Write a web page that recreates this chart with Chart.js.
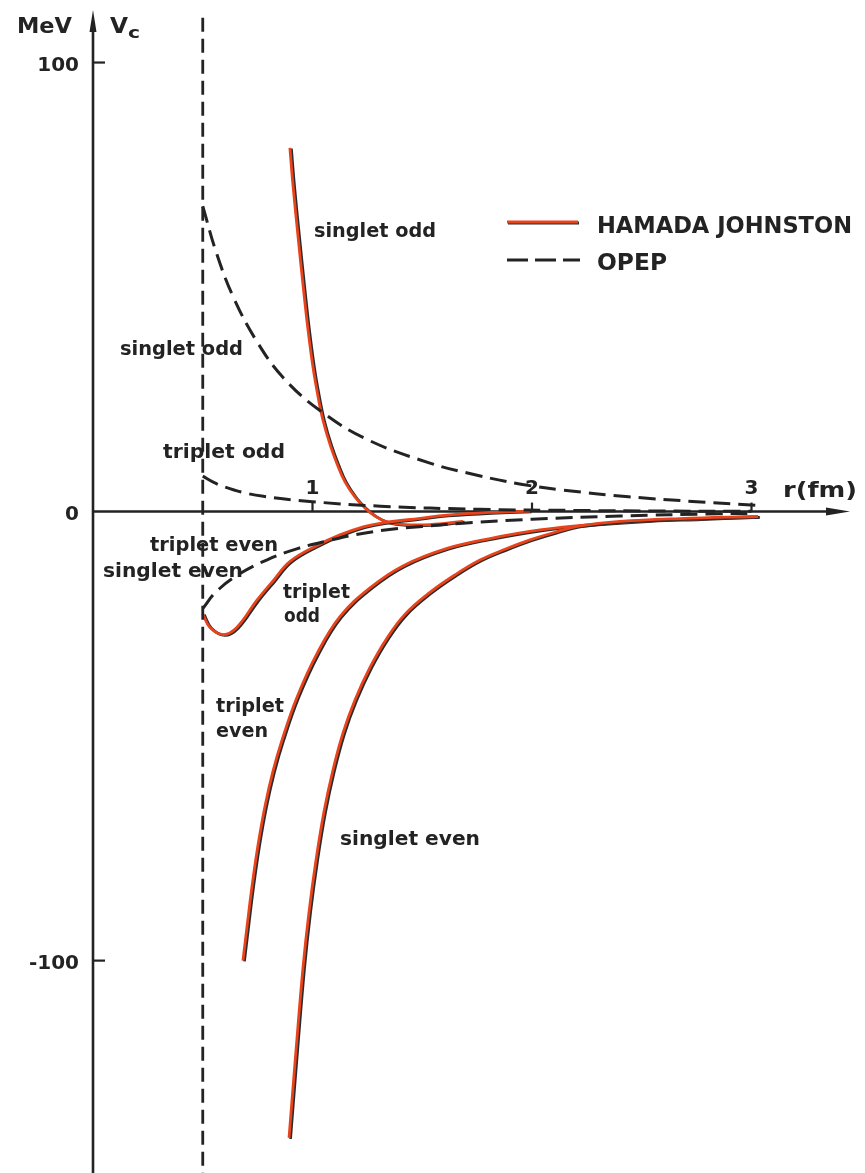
<!DOCTYPE html>
<html>
<head>
<meta charset="utf-8">
<title>Central potential: Hamada-Johnston vs OPEP</title>
<script src="https://cdn.jsdelivr.net/npm/chart.js@4.4.1/dist/chart.umd.min.js"></script>
<style>
  html, body { margin: 0; padding: 0; background: #fff; }
  #wrap { width: 865px; height: 1173px; }
</style>
</head>
<body>
<div id="wrap"><canvas id="potChart" width="865" height="1173"></canvas></div>
<script>
// r in fm, V in MeV

const hardCore = 0.5;

// Hamada-Johnston (solid, red)
const hjSingletOddR = [0.897, 0.911, 0.934, 0.957, 0.980, 1.003, 1.026, 1.048, 1.080, 1.112, 1.148, 1.194, 1.239, 1.285, 1.339, 1.421, 1.535, 1.686];
const hjSingletOddV = [81.0, 72.7, 61.3, 50.4, 40.3, 31.9, 25.4, 20.3, 14.9, 10.6, 6.6, 3.2, 0.8, -1.0, -2.3, -2.9, -2.9, -2.2];

const hjTripletOddR = [0.5, 0.533, 0.594, 0.655, 0.746, 0.821, 0.898, 1.019, 1.125, 1.231, 1.323, 1.49, 1.613, 1.809, 1.991];
const hjTripletOddV = [-22.8, -25.8, -27.4, -25.8, -19.8, -15.4, -11.1, -7.6, -5.2, -3.4, -2.5, -1.5, -0.8, -0.2, 0.1];

const hjTripletEvenR = [0.683, 0.702, 0.724, 0.752, 0.784, 0.820, 0.861, 0.929, 1.021, 1.125, 1.262, 1.412, 1.613, 1.809, 2.036, 2.264, 2.538, 2.765, 3.03];
const hjTripletEvenV = [-100, -92.3, -83.6, -74.2, -65.5, -57.8, -50.9, -41.4, -31.6, -23.4, -17.0, -12.1, -8.2, -6.0, -4.1, -2.9, -2.0, -1.6, -1.1];

const hjSingletEvenR = [0.893, 0.925, 0.957, 0.984, 1.016, 1.052, 1.093, 1.139, 1.194, 1.262, 1.339, 1.421, 1.535, 1.649, 1.763, 1.877, 1.991, 2.105, 2.219, 2.401, 2.674, 3.03];
const hjSingletEvenV = [-139.5, -119.9, -101.4, -89.2, -77.6, -66.9, -57.6, -49.3, -41.9, -34.7, -28.2, -22.9, -18.0, -14.1, -10.8, -8.4, -6.3, -4.6, -3.2, -2.2, -1.56, -1.1];

// OPEP (dashed)
const opSingletOddR = [0.5, 0.563, 0.639, 0.745, 0.867, 1.034, 1.247, 1.535, 1.75, 1.95, 2.14, 2.44, 2.75, 3.02];
const opSingletOddV = [68, 57.5, 47.8, 38.0, 29.8, 22.5, 16.1, 10.8, 8.1, 6.1, 4.8, 3.3, 2.2, 1.4];

const opTripletOddR = [0.5, 0.55, 0.594, 0.68, 0.776, 1.0, 1.31, 1.76, 2.2, 2.6, 3.0];
const opTripletOddV = [7.9, 6.5, 5.6, 4.3, 3.4, 2.2, 1.2, 0.5, 0.25, 0.12, 0.05];

// triplet even and singlet even OPEP share one curve
const opEvenR = [0.5, 0.562, 0.67, 0.791, 0.928, 1.08, 1.2, 1.35, 1.5, 1.686, 2.0, 2.4, 2.85, 3.0];
const opEvenV = [-21.6, -17.8, -13.8, -10.8, -8.3, -6.4, -5.1, -4.0, -3.3, -2.6, -1.7, -1.0, -0.5, -0.4];

const xTicks = [1, 2, 3];
const yTicks = [100, 0, -100];

const X_MAX = 3.4487;
const Y_MAX = 111.7;
const Y_MIN = -147.3;

const RED = '#e8431b';
const INK = '#232323';
const FONT = '"DejaVu Sans", sans-serif';

function pts(rs, vs) {
    return rs.map((r, i) => ({ x: r, y: vs[i] }));
}

function hj(rs, vs) {
    return {
        data: pts(rs, vs), showLine: true, borderColor: RED, borderWidth: 2.8,
        pointRadius: 0, tension: 0.4, shadow: true
    };
}

function opep(rs, vs) {
    return {
        data: pts(rs, vs), showLine: true, borderColor: INK, borderWidth: 3,
        borderDash: [17, 8], pointRadius: 0, tension: 0.4
    };
}

// text squeezed horizontally to a given width
function text(ctx, str, x, y, size, w, align) {
    ctx.save();
    ctx.font = 'bold ' + size + 'px ' + FONT;
    ctx.fillStyle = INK;
    ctx.textBaseline = 'alphabetic';
    const m = ctx.measureText(str).width;
    const sx = w ? w / m : 1;
    let left = x;
    if (align === 'right') left = x - m * sx;
    if (align === 'center') left = x - m * sx / 2;
    ctx.translate(left, y);
    ctx.scale(sx, 1);
    ctx.fillText(str, 0, 0);
    ctx.restore();
}

const figurePlugin = {
    id: 'figure',
    beforeDatasetsDraw(chart) {
        const ctx = chart.ctx;
        const xs = chart.scales.x, ys = chart.scales.y;
        const x0 = xs.getPixelForValue(0), y0 = ys.getPixelForValue(0);
        const xEnd = xs.getPixelForValue(X_MAX), yTop = ys.getPixelForValue(Y_MAX);
        ctx.save();
        ctx.strokeStyle = INK;
        ctx.fillStyle = INK;
        ctx.lineWidth = 2.6;
        // y axis
        ctx.beginPath();
        ctx.moveTo(x0, chart.height);
        ctx.lineTo(x0, yTop + 14);
        ctx.stroke();
        ctx.beginPath();
        ctx.moveTo(x0, yTop);
        ctx.lineTo(x0 - 3.5, yTop + 22);
        ctx.lineTo(x0 + 3.5, yTop + 22);
        ctx.closePath();
        ctx.fill();
        // x axis
        ctx.beginPath();
        ctx.moveTo(x0, y0);
        ctx.lineTo(xEnd - 14, y0);
        ctx.stroke();
        ctx.beginPath();
        ctx.moveTo(xEnd, y0);
        ctx.lineTo(xEnd - 24, y0 - 4);
        ctx.lineTo(xEnd - 24, y0 + 4);
        ctx.closePath();
        ctx.fill();
        // ticks
        ctx.lineWidth = 2.2;
        yTicks.forEach(v => {
            if (v === 0) return;
            const y = ys.getPixelForValue(v);
            ctx.beginPath();
            ctx.moveTo(x0, y);
            ctx.lineTo(x0 + 12, y);
            ctx.stroke();
        });
        xTicks.forEach(v => {
            const x = xs.getPixelForValue(v);
            ctx.beginPath();
            ctx.moveTo(x, y0);
            ctx.lineTo(x, y0 - 9);
            ctx.stroke();
        });
        ctx.restore();
    },
    beforeDatasetDraw(chart, args) {
        if (chart.data.datasets[args.index].shadow) {
            const ctx = chart.ctx;
            ctx.save();
            ctx.shadowColor = '#2b2b2b';
            ctx.shadowOffsetX = 1.5;
            ctx.shadowOffsetY = 0.8;
            ctx.shadowBlur = 0;
        }
    },
    afterDatasetDraw(chart, args) {
        if (chart.data.datasets[args.index].shadow) chart.ctx.restore();
    },
    afterDraw(chart) {
        const ctx = chart.ctx;
        const xs = chart.scales.x, ys = chart.scales.y;
        const x0 = xs.getPixelForValue(0), y0 = ys.getPixelForValue(0);

        // tick labels
        xTicks.forEach(v => text(ctx, String(v), xs.getPixelForValue(v), y0 - 18, 20, 0, 'center'));
        yTicks.forEach(v => {
            const lab = v < 0 ? '-' + Math.abs(v) : String(v);
            text(ctx, lab, x0 - 14, ys.getPixelForValue(v) + 8, 20, 0, 'right');
        });

        // axis titles
        text(ctx, 'MeV', 17, 33, 22, 55);
        text(ctx, 'V', 110, 33, 22, 18);
        text(ctx, 'c', 128, 38, 16, 12);
        text(ctx, 'r(fm)', 783, 497, 22, 74);

        // curve labels
        text(ctx, 'singlet odd', 314, 237, 19, 122);
        text(ctx, 'singlet odd', 120, 355, 19, 123);
        text(ctx, 'triplet odd', 163, 458, 19, 122);
        text(ctx, 'triplet even', 150, 551, 19, 128);
        text(ctx, 'singlet even', 103, 577, 19, 140);
        text(ctx, 'triplet', 283, 598, 19, 67);
        text(ctx, 'odd', 284, 622, 19, 36);
        text(ctx, 'triplet', 216, 712, 19, 68);
        text(ctx, 'even', 216, 737, 19, 52);
        text(ctx, 'singlet even', 340, 845, 19, 140);

        // legend
        ctx.save();
        ctx.lineWidth = 2.8;
        ctx.strokeStyle = RED;
        ctx.shadowColor = '#2b2b2b';
        ctx.shadowOffsetX = 1;
        ctx.shadowOffsetY = 1;
        ctx.beginPath();
        ctx.moveTo(507, 222);
        ctx.lineTo(578, 222);
        ctx.stroke();
        ctx.restore();
        ctx.save();
        ctx.lineWidth = 3;
        ctx.strokeStyle = INK;
        ctx.setLineDash([21, 7]);
        ctx.beginPath();
        ctx.moveTo(507, 260);
        ctx.lineTo(580, 260);
        ctx.stroke();
        ctx.restore();
        text(ctx, 'HAMADA JOHNSTON', 597, 233, 23, 255);
        text(ctx, 'OPEP', 597, 270, 23, 70);
    }
};

const ctx = document.getElementById('potChart').getContext('2d');
const potChart = new Chart(ctx, {
    type: 'scatter',
    data: {
        datasets: [
            {
                data: [{ x: hardCore, y: 110 }, { x: hardCore, y: Y_MIN }],
                showLine: true, borderColor: INK, borderWidth: 2.8,
                borderDash: [14, 7], pointRadius: 0
            },
            opep(opSingletOddR, opSingletOddV),
            opep(opTripletOddR, opTripletOddV),
            opep(opEvenR, opEvenV),
            hj(hjSingletEvenR, hjSingletEvenV),
            hj(hjTripletEvenR, hjTripletEvenV),
            hj(hjTripletOddR, hjTripletOddV),
            hj(hjSingletOddR, hjSingletOddV)
        ]
    },
    options: {
        responsive: false,
        animation: false,
        devicePixelRatio: 1,
        layout: { padding: { left: 93, right: 15, top: 10, bottom: 0 } },
        scales: {
            x: { type: 'linear', min: 0, max: X_MAX, display: false },
            y: { type: 'linear', min: Y_MIN, max: Y_MAX, display: false }
        },
        plugins: {
            legend: { display: false },
            tooltip: { enabled: false }
        }
    },
    plugins: [figurePlugin]
});
</script>
</body>
</html>
